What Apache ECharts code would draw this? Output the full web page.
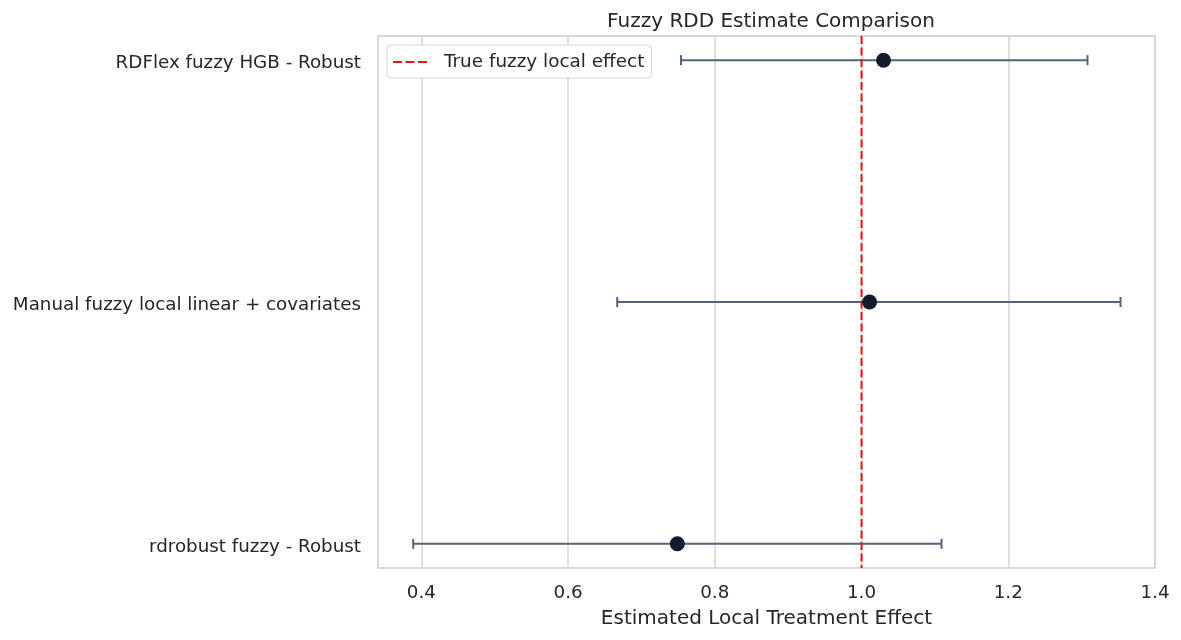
<!DOCTYPE html>
<html>
<head>
<meta charset="utf-8">
<script src="https://cdn.jsdelivr.net/npm/echarts@6/dist/echarts.min.js"></script>
<style>
  html, body { margin: 0; padding: 0; background: #fff; }
  #main { width: 1181px; height: 640px; }
</style>
</head>
<body>
<div id="main"></div>
<script>
// estimator names, top to bottom
const methods = ['RDFlex fuzzy HGB - Robust', 'Manual fuzzy local linear + covariates', 'rdrobust fuzzy - Robust']
const estimates = [1.030, 1.011, 0.749]
const ciLower = [0.754, 0.667, 0.389]
const ciUpper = [1.308, 1.353, 1.109]
const trueEffect = 1.0
const xTicks = [0.4, 0.6, 0.8, 1.0, 1.2, 1.4]

const textColor = '#262626'
const font = 'DejaVu Sans'

let myChart = echarts.init(document.getElementById('main'))

myChart.setOption({
  animation: false,
  textStyle: { fontFamily: font, color: textColor },
  title: {
    text: 'Fuzzy RDD Estimate Comparison',
    left: 766,
    top: 7,
    textAlign: 'center',
    textStyle: { fontFamily: font, fontSize: 20, fontWeight: 'normal', color: textColor }
  },
  legend: {
    left: 387,
    top: 45,
    padding: [8, 7, 7, 6],
    borderColor: '#d6d6d6',
    borderWidth: 1,
    borderRadius: 4,
    backgroundColor: '#fff',
    itemWidth: 34,
    itemHeight: 2,
    itemGap: 10,
    data: [{
      name: 'True fuzzy local effect',
      icon: 'path://M0,0h9v2h-9z M12.5,0h9v2h-9z M25,0h9v2h-9z'
    }],
    textStyle: { fontFamily: font, fontSize: 18.4, color: textColor, padding: [2, 0, 0, 12] }
  },
  grid: { left: 378, right: 26, top: 36, bottom: 72, show: true, borderColor: '#cccccc', borderWidth: 1.5, containLabel: false },
  xAxis: {
    type: 'value',
    min: 0.341,
    max: 1.4,
    name: 'Estimated Local Treatment Effect',
    nameLocation: 'middle',
    nameGap: 41,
    nameTextStyle: { fontFamily: font, fontSize: 20, color: textColor },
    axisLine: { show: false },
    axisTick: { show: false },
    splitLine: { show: false },
    axisLabel: {
      customValues: xTicks,
      formatter: v => v.toFixed(1),
      margin: 16,
      fontFamily: font, fontSize: 18.3, color: textColor
    }
  },
  yAxis: {
    type: 'value',
    inverse: true,
    min: -0.1,
    max: 2.1,
    axisLine: { show: false },
    axisTick: { show: false },
    splitLine: { show: false },
    axisLabel: {
      customValues: [0, 1, 2],
      formatter: v => '{m|' + (methods[Math.round(v)] || '') + '}',
      margin: 17,
      rich: {
        m: { fontFamily: font, fontSize: 18.3, color: textColor, padding: [6, 0, 0, 0] }
      }
    }
  },
  series: [
    {
      // vertical grid lines
      type: 'line',
      data: [],
      silent: true,
      z: 1,
      markLine: {
        silent: true,
        z: 1,
        symbol: 'none',
        label: { show: false },
        lineStyle: { color: '#d5d5d5', width: 1.5, type: 'solid', opacity: 1 },
        emphasis: { disabled: true },
        data: xTicks.map(t => ({ xAxis: t }))
      }
    },
    {
      type: 'custom',
      z: 3,
      data: methods.map((m, i) => [ciLower[i], ciUpper[i], i]),
      renderItem: (params, api) => {
        const lo = api.coord([api.value(0), api.value(2)])
        const hi = api.coord([api.value(1), api.value(2)])
        const cap = 5
        const style = { stroke: '#56627a', lineWidth: 2 }
        return {
          type: 'group',
          children: [
            { type: 'line', shape: { x1: lo[0], y1: lo[1], x2: hi[0], y2: hi[1] }, style },
            { type: 'line', shape: { x1: lo[0], y1: lo[1] - cap, x2: lo[0], y2: lo[1] + cap }, style },
            { type: 'line', shape: { x1: hi[0], y1: hi[1] - cap, x2: hi[0], y2: hi[1] + cap }, style }
          ]
        }
      }
    },
    {
      name: 'True fuzzy local effect',
      type: 'line',
      z: 4,
      data: [[trueEffect, -0.1], [trueEffect, 2.1]],
      symbol: 'none',
      itemStyle: { color: '#dc1a1a' },
      lineStyle: { color: '#dc1a1a', width: 2, type: [8, 3.5], opacity: 1 }
    },
    {
      name: 'Estimate',
      type: 'scatter',
      z: 5,
      symbolSize: 15,
      itemStyle: { color: '#141b2d', opacity: 1 },
      data: estimates.map((e, i) => [e, i])
    }
  ]
})
</script>
</body>
</html>
